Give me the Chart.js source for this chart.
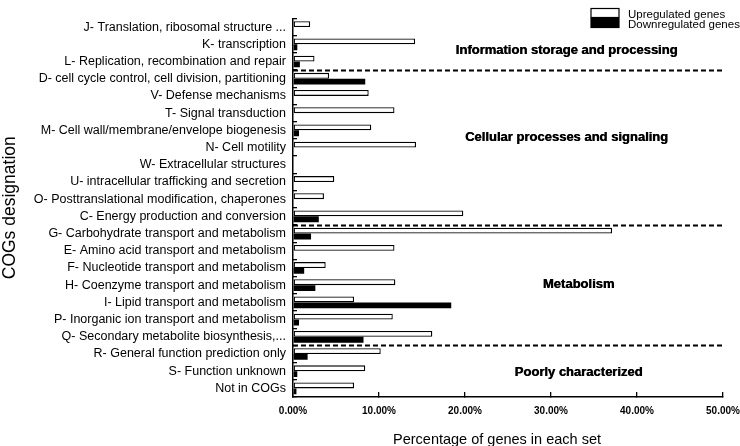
<!DOCTYPE html>
<html>
<head>
<meta charset="utf-8">
<script src="https://cdn.jsdelivr.net/npm/chart.js@4.4.1/dist/chart.umd.min.js"></script>
<style>
  body { margin: 0; background: #fff; }
</style>
</head>
<body>
<canvas id="cogChart" width="740" height="446"></canvas>
<script>
// COG categories, top to bottom
const categories = [
  "J- Translation, ribosomal structure ...",
  "K- transcription",
  "L- Replication, recombination and repair",
  "D- cell cycle control, cell division, partitioning",
  "V- Defense mechanisms",
  "T- Signal transduction",
  "M- Cell wall/membrane/envelope biogenesis",
  "N- Cell motility",
  "W- Extracellular structures",
  "U- intracellular trafficking and secretion",
  "O- Posttranslational modification, chaperones",
  "C- Energy production and conversion",
  "G- Carbohydrate transport and metabolism",
  "E- Amino acid transport and metabolism",
  "F- Nucleotide transport and metabolism",
  "H- Coenzyme transport and metabolism",
  "I- Lipid transport and metabolism",
  "P- Inorganic ion transport and metabolism",
  "Q- Secondary metabolite biosynthesis,...",
  "R- General function prediction only",
  "S- Function unknown",
  "Not in COGs"
];

// % of genes in each set
const upregulated = [2.0, 14.2, 2.5, 4.2, 8.8, 11.8, 9.1, 14.3, 0, 4.8, 3.6, 19.8,
                     37.1, 11.8, 3.8, 11.9, 7.1, 11.6, 16.2, 10.2, 8.4, 7.1];
const downregulated = [0, 0.5, 0.8, 8.4, 0, 0, 0.7, 0, 0, 0, 0, 3.0,
                       2.1, 0, 1.3, 2.6, 18.4, 0.7, 8.2, 1.7, 0.5, 0.4];

const xTicks = [0, 10, 20, 30, 40, 50];
const xTitle = "Percentage of genes in each set";

// functional groups and how many categories each one holds
const groupNames = [
  "Information storage and processing",
  "Cellular processes and signaling",
  "Metabolism",
  "Poorly characterized"
];
const groupSizes = [3, 9, 7, 3];

const FONT = "'Liberation Sans', Arial, sans-serif";

// dashed separators + group names
const groupPlugin = {
  id: "groups",
  afterDatasetsDraw(chart) {
    const { ctx, chartArea, scales } = chart;
    ctx.save();
    ctx.strokeStyle = "#000";
    ctx.lineWidth = 2;
    ctx.setLineDash([5, 3]);
    let idx = 0;
    groupSizes.slice(0, -1).forEach((n) => {
      idx += n;
      const y = Math.round(scales.y.getPixelForValue(idx - 0.5)) + 0.5;
      ctx.beginPath();
      ctx.moveTo(chartArea.left, y);
      ctx.lineTo(chartArea.right + 2, y);
      ctx.stroke();
    });
    ctx.setLineDash([]);

    // label anchors: [x value, category index]
    const anchors = [[31.8, 1.37], [31.8, 6.42], [33.2, 14.93], [33.2, 20.05]];
    ctx.font = "bold 13px " + FONT;
    ctx.fillStyle = "#000";
    ctx.textAlign = "center";
    ctx.textBaseline = "middle";
    groupNames.forEach((name, i) => {
      const x = scales.x.getPixelForValue(anchors[i][0]);
      const y = scales.y.getPixelForValue(anchors[i][1]);
      // second pass, slightly offset, for the heavy look of the original
      ctx.fillText(name, x, y);
      ctx.fillText(name, x + 0.5, y);
    });
    ctx.restore();
  }
};

// stacked legend at top right + x axis title (sits a bit left of centre)
const legendPlugin = {
  id: "stackLegend",
  afterDraw(chart) {
    const { ctx } = chart;
    ctx.save();
    ctx.font = "11.5px " + FONT;
    ctx.textBaseline = "alphabetic";
    ctx.textAlign = "left";
    chart.data.datasets.forEach((ds, i) => {
      const y = 8.5 + i * 10;
      ctx.fillStyle = ds.backgroundColor;
      ctx.fillRect(591, y, 28, 9);
      ctx.strokeStyle = "#000";
      ctx.lineWidth = 1.2;
      ctx.strokeRect(591, y, 28, 9);
      ctx.fillStyle = "#000";
      ctx.fillText(ds.label, 628, y + 9);
    });

    ctx.font = "14.5px " + FONT;
    ctx.textAlign = "center";
    ctx.textBaseline = "middle";
    ctx.fillText(xTitle, 497, 440);
    ctx.restore();
  }
};

new Chart(document.getElementById("cogChart"), {
  type: "bar",
  data: {
    labels: categories,
    datasets: [
      {
        label: "Upregulated genes",
        data: upregulated,
        backgroundColor: "#ffffff",
        borderColor: "#000000",
        borderWidth: (c) => (c.raw > 0 ? 1.3 : 0),
        borderSkipped: false,
        categoryPercentage: 0.68,
        barPercentage: 1.0
      },
      {
        label: "Downregulated genes",
        data: downregulated,
        backgroundColor: "#000000",
        borderWidth: 0,
        categoryPercentage: 0.68,
        barPercentage: 1.0
      }
    ]
  },
  options: {
    indexAxis: "y",
    responsive: false,
    animation: false,
    layout: { padding: { top: 13, right: 17, left: 0, bottom: 0 } },
    plugins: {
      legend: { display: false },
      tooltip: { enabled: false }
    },
    scales: {
      x: {
        min: 0,
        max: 50,
        afterBuildTicks: (scale) => { scale.ticks = xTicks.map((v) => ({ value: v })); },
        ticks: {
          color: "#000",
          padding: 13,
          maxRotation: 0,
          font: { family: FONT, size: 10, weight: "bold" },
          callback: (v) => Number(v).toFixed(2) + "%"
        },
        grid: { drawOnChartArea: false, tickLength: -5, color: "#000", lineWidth: 1.3 },
        border: { color: "#000", width: 1.5 },
        afterFit: (scale) => {
          scale.height = 49;
          scale.paddingLeft = 0;
          scale.paddingRight = 0;
        }
      },
      y: {
        grid: { drawOnChartArea: false, tickLength: -4, color: "#000", lineWidth: 1.3 },
        border: { color: "#000", width: 1.5 },
        ticks: {
          color: "#000",
          padding: 11,
          autoSkip: false,
          font: { family: FONT, size: 12.5 }
        },
        title: {
          display: true,
          text: "COGs designation",
          color: "#000",
          font: { family: FONT, size: 17.5 },
          padding: { top: 0, bottom: 0 }
        },
        afterFit: (scale) => { scale.width = 293; }
      }
    }
  },
  plugins: [groupPlugin, legendPlugin]
});
</script>
</body>
</html>
